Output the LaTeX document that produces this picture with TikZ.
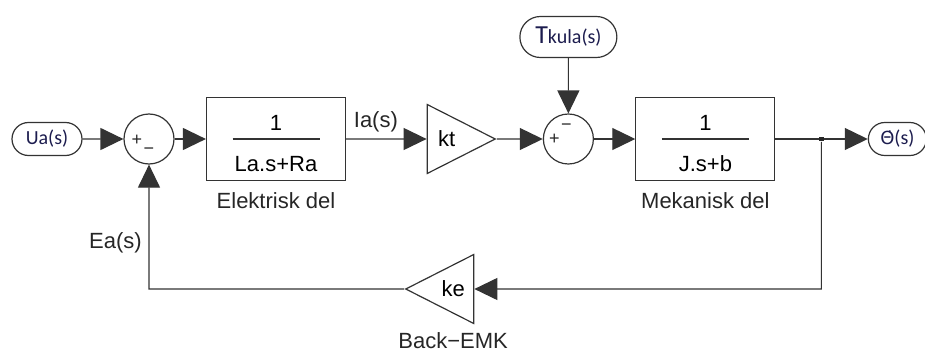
\documentclass[tikz,border=0pt]{standalone}
\usepackage{fontspec}
\setmainfont{Liberation Sans}
\newfontfamily\calfont{Carlito}
\newfontfamily\dvfont{DejaVu Sans}
\usetikzlibrary{shapes.geometric,shapes.misc,arrows.meta,positioning,calc}
\definecolor{portnavy}{RGB}{28,28,78}
\tikzset{
block/.style = {draw=black!80, fill=white, rectangle, minimum height=41.5pt, minimum width=69.5pt, line width=0.6pt, align=center, font=\fontsize{11}{16}\selectfont},
sum/.style= {draw=black!80, fill=white, circle, minimum size=25pt, inner sep=0pt, line width=0.6pt},
gain/.style = {draw=black!80, fill=white, isosceles triangle, isosceles triangle stretches, minimum width=34.5pt, minimum height=34pt, inner sep=0pt, line width=0.6pt, font=\fontsize{11}{13}\selectfont},
port/.style = {draw=black!80, rounded rectangle, minimum height=16.5pt, inner sep=0pt, line width=0.6pt, text=portnavy, font=\calfont\fontsize{10}{12}\selectfont},
tmp/.style  = {coordinate},
dot/.style = {fill=black!85, rectangle, minimum size=2.2pt, inner sep=0pt},
lbl/.style = {font=\fontsize{11}{13}\selectfont, text=black!85},
sgn/.style = {font=\fontsize{9}{10}\selectfont, inner sep=0pt, text=black!85}
}

\begin{document}
\begin{tikzpicture}[auto, node distance=2cm, >={Triangle[length=11.5pt,width=11pt]}, line width=0.6pt, draw=black!80]
  \useasboundingbox (0,0) rectangle (462.5pt,-176.5pt);
  \node [port, minimum width=35pt] at (23.5pt,-69.5pt)      (ua)     {Ua(s)};
  \node [sum, right of=ua, node distance=51pt]               (sum1)   {};
  \node [block, right of=sum1, node distance=63.5pt]         (block1) {\rule{0pt}{12pt}1\\[4.5pt]La.s+Ra};
  \node [gain, right=40.25pt of block1]                      (kt)     {kt};
  \node [sum, right=23pt of kt]                              (sum2)   {};
  \node [port, minimum width=48.5pt, minimum height=20.5pt, above of=sum2, node distance=51pt] (tkula) {{\fontsize{13}{14}\selectfont T}kula(s)};
  \node [block, right of=sum2, node distance=68.5pt]         (block2) {\rule{0pt}{12pt}1\\[4.5pt]J.s+b};
  \node [dot, right of=block2, node distance=58pt]           (branch) {};
  \node [port, minimum width=29pt, right of=branch, node distance=38pt] (theta) {{\dvfont\fontsize{9}{11}\selectfont Θ̇}(s)};
  \node [tmp, below of=branch, node distance=75pt]           (fbr)    {};
  \node [gain, shape border rotate=180, left=173.5pt of fbr] (ke)     {ke};
  \node [tmp, below of=sum1, node distance=75pt]             (fbl)    {};

  % fraction bars, block names and signs
  \draw [line width=0.6pt] ($(block1.center)+(-21.75pt,0)$) -- ($(block1.center)+(21.75pt,0)$);
  \draw [line width=0.6pt] ($(block2.center)+(-21.75pt,0)$) -- ($(block2.center)+(21.75pt,0)$);
  \node [lbl, below=2pt of block1] (elbl) {Elektrisk del};
  \node [lbl, below=2pt of block2] (mlbl) {Mekanisk del};
  \node [lbl, below=6pt of ke]     (blbl) {Back−EMK};
  \node [sgn] at ($(sum1)+(-6pt,-0.5pt)$)  (s1p) {+};
  \node [sgn] at ($(sum1)+(0pt,-6pt)$)     (s1m) {−};
  \node [sgn] at ($(sum2)+(-7pt,0pt)$)     (s2p) {+};
  \node [sgn] at ($(sum2)+(-1pt,6pt)$)     (s2m) {−};

  \draw [->] (ua) -- (sum1);
  \draw [->] (sum1) -- (block1);
  \draw [->] (block1) -- node [lbl, above, pos=0.37] (ialbl) {Ia(s)} (kt);
  \draw [->] (kt) -- (sum2);
  \draw [->] (tkula) -- (sum2);
  \draw [->] (sum2) -- (block2);
  \draw (block2) -- (branch);
  \draw [->] (branch) -- (theta);
  \draw [->] (branch) -- (fbr) -- (ke);
  \draw [->] (ke) -- (fbl) -- node [lbl, left, pos=0.37] (ealbl) {Ea(s)} (sum1);
\end{tikzpicture}
\end{document}
